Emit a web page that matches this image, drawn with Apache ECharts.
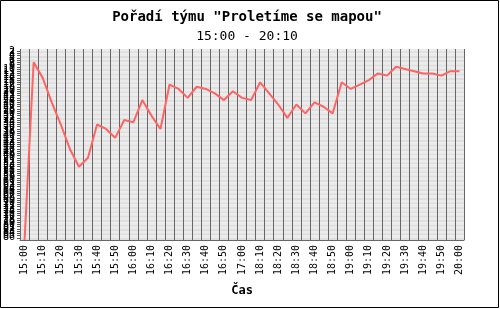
<!DOCTYPE html>
<html>
<head>
<meta charset="utf-8">
<script src="https://cdn.jsdelivr.net/npm/echarts@6/dist/echarts.min.js"></script>
<style>
html,body{margin:0;padding:0;background:#fff;}
#chart{width:500px;height:309px;}
</style>
</head>
<body>
<div id="chart"></div>
<script>
var titleText = 'Pořadí týmu "Proletíme se mapou"';
var subtitleText = '15:00 - 20:10';
var xAxisName = 'Čas';
var categories = [
  '15:00','15:05','15:10','15:15','15:20','15:25','15:30','15:35','15:40','15:45',
  '15:50','15:55','16:00','16:05','16:10','16:15','16:20','16:25','16:30','16:35',
  '16:40','16:45','16:50','16:55','17:00','17:05','18:10','18:15','18:20','18:25',
  '18:30','18:35','18:40','18:45','18:50','18:55','19:00','19:05','19:10','19:15',
  '19:20','19:25','19:30','19:35','19:40','19:45','19:50','19:55','20:00'
];
var ranks = [
  87, 7, 14, 25, 35, 46, 54, 50, 35, 37,
  41, 33, 34, 24, 31, 37, 17, 19, 23, 18,
  19, 21, 24, 20, 23, 24, 16, 21, 26, 32,
  26, 30, 25, 27, 30, 16, 19, 17, 15, 12,
  13, 9, 10, 11, 12, 12, 13, 11, 11
];
var rankMin = 1;
var rankMax = 87;

var mono = '"DejaVu Sans Mono", "Liberation Mono", monospace';
var chart = echarts.init(document.getElementById('chart'), null, {renderer: 'canvas'});
chart.setOption({
  animation: false,
  backgroundColor: '#ffffff',
  title: [
    {text: titleText, left: 242, top: 5, textAlign: 'center',
     textStyle: {fontFamily: mono, fontSize: 14, fontWeight: 'bold', color: '#000'}},
    {text: subtitleText, left: 242, top: 25, textAlign: 'center',
     textStyle: {fontFamily: mono, fontSize: 13, fontWeight: 'normal', color: '#000'}}
  ],
  graphic: [
    {type: 'rect', shape: {x: 0.5, y: 0.5, width: 498, height: 307}, silent: true,
     style: {fill: 'none', stroke: '#000', lineWidth: 1}}
  ],
  grid: {left: 20, right: 36, top: 49, bottom: 69, containLabel: false},
  xAxis: {
    type: 'category',
    data: categories,
    boundaryGap: true,
    name: xAxisName,
    nameLocation: 'middle',
    nameGap: 45,
    nameTextStyle: {fontFamily: mono, fontSize: 12, fontWeight: 'bold', color: '#000'},
    axisLine: {show: true, lineStyle: {color: '#666', width: 1}},
    axisTick: {show: true, inside: true, length: 3, interval: 0, lineStyle: {color: '#666'}},
    axisLabel: {interval: 1, rotate: 90, margin: 5, fontFamily: mono, fontSize: 10, color: '#000'},
    splitLine: {show: true, interval: 0, lineStyle: {color: '#666', width: 1}}
  },
  yAxis: {
    type: 'value',
    inverse: true,
    min: rankMin,
    max: rankMax,
    interval: 1,
    axisLine: {show: false},
    axisTick: {show: true, length: 3, lineStyle: {color: '#555'}},
    axisLabel: {show: true, margin: 5, fontFamily: mono, fontSize: 10, color: '#000'},
    splitLine: {show: false},
    splitArea: {show: true, areaStyle: {color: ['#ebebeb', '#dedede']}}
  },
  series: [{
    type: 'line',
    data: ranks,
    showSymbol: false,
    symbol: 'none',
    lineStyle: {color: '#ff6464', width: 2},
    itemStyle: {color: '#ff6464'}
  }]
});
</script>
</body>
</html>
